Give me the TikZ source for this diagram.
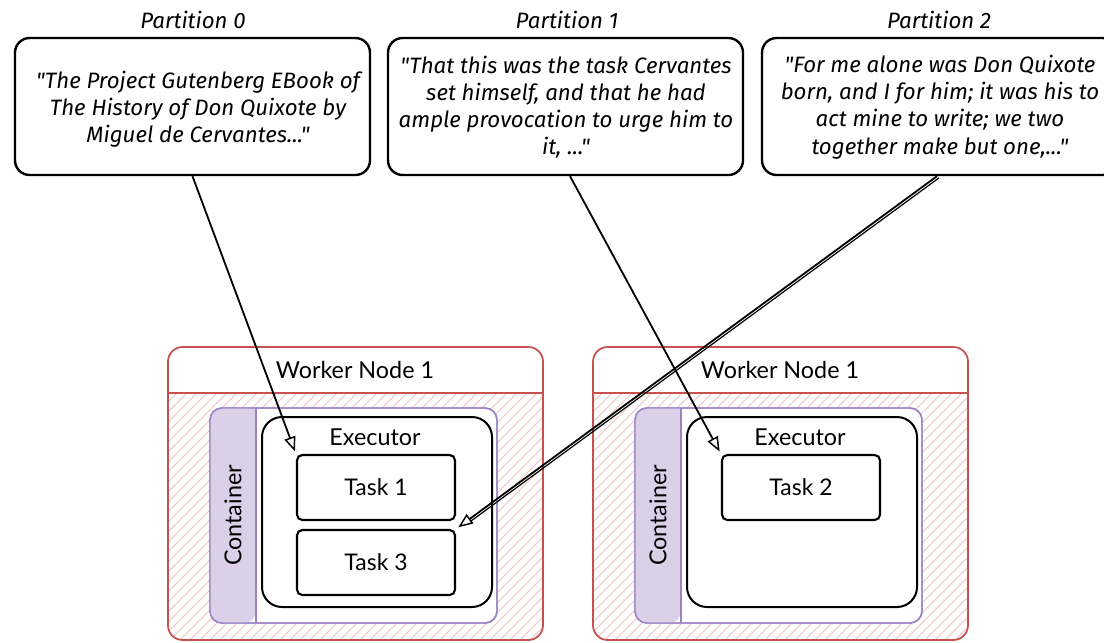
\documentclass[tikz,border=0pt]{standalone}
\usepackage{fontspec}
\newfontfamily\handfont{Fira Sans}
\newfontfamily\labelfont{Lato}
\usetikzlibrary{arrows.meta}
\definecolor{wnred}{HTML}{C8504E}
\definecolor{hatchpink}{HTML}{F2C2C2}
\definecolor{ctline}{HTML}{9B82C6}
\definecolor{ctfill}{HTML}{DCD0E9}

\begin{document}
\begin{tikzpicture}[x=0.75pt,y=-0.75pt,
  quotebox/.style={draw, line width=1.8pt, rounded corners=11pt,
    minimum width=266.25pt, minimum height=102.75pt, inner sep=0pt},
  quotetext/.style={align=center, inner sep=0pt,
    font=\handfont\itshape\fontsize{16.7}{20.4}\selectfont},
  parttitle/.style={inner sep=0pt, font=\handfont\itshape\fontsize{16.7}{19}\selectfont},
  workerbox/.style={draw=wnred, line width=1.3pt, rounded corners=11pt,
    minimum width=281.25pt, minimum height=219.75pt, inner sep=0pt},
  containerbox/.style={draw=ctline, line width=1.1pt, fill=white, rounded corners=9pt,
    minimum width=215.25pt, minimum height=161.25pt, inner sep=0pt},
  executorbox/.style={draw, line width=1.5pt, rounded corners=15pt,
    minimum width=172.5pt, minimum height=142.5pt, inner sep=0pt},
  taskbox/.style={draw, fill=white, line width=1.6pt, rounded corners=4pt,
    minimum width=118.5pt, minimum height=48.75pt, inner sep=0pt,
    font=\labelfont\fontsize{17.2}{20}\selectfont},
  sanslabel/.style={inner sep=0pt, font=\labelfont\fontsize{17.5}{20}\selectfont},
  feed/.style={line width=1.35pt, shorten >=2pt,
    -{Triangle[open, length=11pt, width=8.5pt, line width=1.1pt]}}
]
\clip (0,0) rectangle (1104,643);
\fill[white] (0,0) rectangle (1104,643);

% ---- partitions of the input text ----
\node[parttitle] (p0) at (193,20) {Partition 0};
\node[parttitle] (p1) at (567,20) {Partition 1};
\node[parttitle] (p2) at (939,20) {Partition 2};

\node[quotebox] (q0) at (192.5,106.5) {};
\node[quotebox] (q1) at (565.5,106.5) {};
\node[quotebox] (q2) at (939.5,106.5) {};

\node[quotetext] (t0) at (198,109) {"The Project Gutenberg EBook of\\The History of Don Quixote by\\Miguel de Cervantes..."};
\node[quotetext] (t1) at (566,107) {"That this was the task Cervantes\\set himself, and that he had\\ample provocation to urge him to\\it, ..."};
\node[quotetext] (t2) at (940,107) {"For me alone was Don Quixote\\born, and I for him; it was his to\\act mine to write; we two\\together make but one,..."};

% ---- two worker nodes ----
\foreach \k/\dx in {a/0, b/425}{
  \begin{scope}[shift={(\dx,0)}]
    \begin{scope}
      \clip[rounded corners=11pt] (168,380) rectangle (543,640);
      \clip (168,393) rectangle (543,650);
      \foreach \s in {-260,-250,...,560}
        \draw[hatchpink, line width=0.55pt] (\s,650) -- (\s+270,380);
    \end{scope}
    \node[workerbox] (w\k) at (355.5,493.5) {};
    \draw[wnred, line width=1.3pt] (168,393) -- (543,393);
    \node[sanslabel] (wl\k) at (355,370) {Worker Node 1};

    \node[containerbox] (c\k) at (353.5,515.5) {};
    \fill[ctfill] (256,408) [rounded corners=9pt] -- (210,408) -- (210,623)
      -- (256,623) [sharp corners] -- cycle;
    \draw[ctline, line width=1.1pt, rounded corners=9pt] (210,408) rectangle (497,623);
    \draw[ctline, line width=1.1pt] (256,408) -- (256,623);
    \node[sanslabel, rotate=90] (cl\k) at (233,515.5) {Container};

    \node[executorbox] (e\k) at (377,512) {};
    \node[sanslabel] (el\k) at (375,437) {Executor};
  \end{scope}
}

% ---- tasks ----
\node[taskbox] (ta1) at (376,487.5) {Task 1};
\node[taskbox] (ta3) at (376,562.5) {Task 3};
\node[taskbox] (tb2) at (801,487.5) {Task 2};

% ---- partition to task assignment ----
\draw[feed] (q0.south) -- (ta1.north west);
\draw[feed] ([xshift=3.4pt]q1.south) -- (tb2.north west);
\draw[feed] ([xshift=-1.9pt]q2.south) -- (ta3.north east);
\draw[line width=0.9pt, shorten >=12pt] ([xshift=-0.3pt,yshift=-1.2pt]q2.south) -- ([xshift=1.2pt,yshift=-1.4pt]ta3.north east);
\end{tikzpicture}
\end{document}
